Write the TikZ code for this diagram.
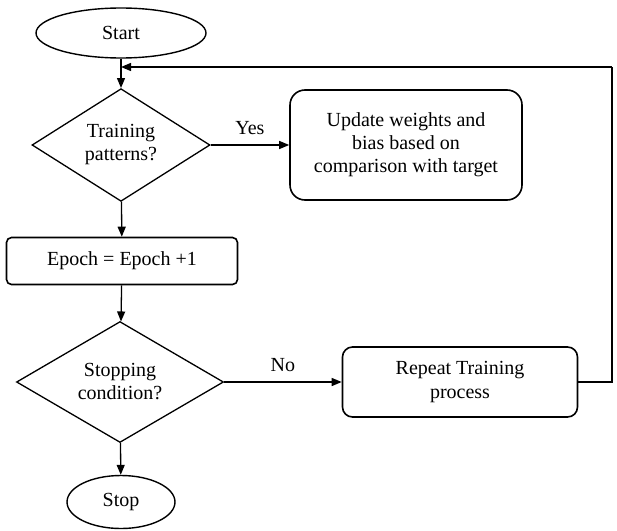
\documentclass[tikz,border=0pt]{standalone}
\usepackage{fontspec}
\setmainfont{Liberation Serif}
\usetikzlibrary{shapes.geometric, arrows.meta, positioning}

\tikzset{
    terminal/.style={draw, ellipse, line width=1.4pt, inner sep=0pt},
    decision/.style={draw, diamond, line width=1.3pt, inner sep=0pt, align=center},
    process/.style={draw, rectangle, line width=1.6pt, align=center},
    flow/.style={-{Triangle[length=10pt,width=8pt]}, line width=1.3pt},
    link/.style={line width=1.3pt}
}

\begin{document}
\begin{tikzpicture}[x=1pt, y=-1pt, font=\fontsize{20}{23}\selectfont]
    \useasboundingbox (0,0) rectangle (617,530);

    % Terminals
    \node[terminal, minimum width=170pt, minimum height=50pt] (start) at (121,33) {Start};
    \node[terminal, minimum width=108pt, minimum height=53pt] (stop) at (121,502) {Stop};

    % Decisions
    \node[decision, minimum width=178pt, minimum height=110pt] (train) at (121,145) {Training\\patterns?};
    \node[decision, minimum width=207pt, minimum height=110pt] (stopcond) at (120,382) {Stopping\\condition?};

    % Processes
    \node[process, rounded corners=15pt, minimum width=232pt, minimum height=110pt] (update) at (406,145) {Update weights and\\bias based on\\comparison with target};
    \node[process, rounded corners=5pt, minimum width=231pt, minimum height=47pt] (epoch) at (122,261) {Epoch = Epoch +1};
    \node[process, rounded corners=10pt, minimum width=235pt, minimum height=70pt] (repeat) at (460,382) {Repeat Training\\process};

    % Loop corners
    \coordinate (loop) at (121,67);
    \coordinate (rtop) at (612,67);

    % Arrows
    \draw[flow] (start) -- (train);
    \draw[flow] (train) -- node[above=6pt] {Yes} (update);
    \draw[flow] (train) -- (epoch);
    \draw[flow] (epoch) -- (stopcond);
    \draw[flow] (stopcond) -- node[above=6pt] {No} (repeat);
    \draw[flow] (stopcond) -- (stop);
    \draw[link] (repeat.east) -| (rtop);
    \draw[flow] (rtop) -- (loop);
\end{tikzpicture}
\end{document}
